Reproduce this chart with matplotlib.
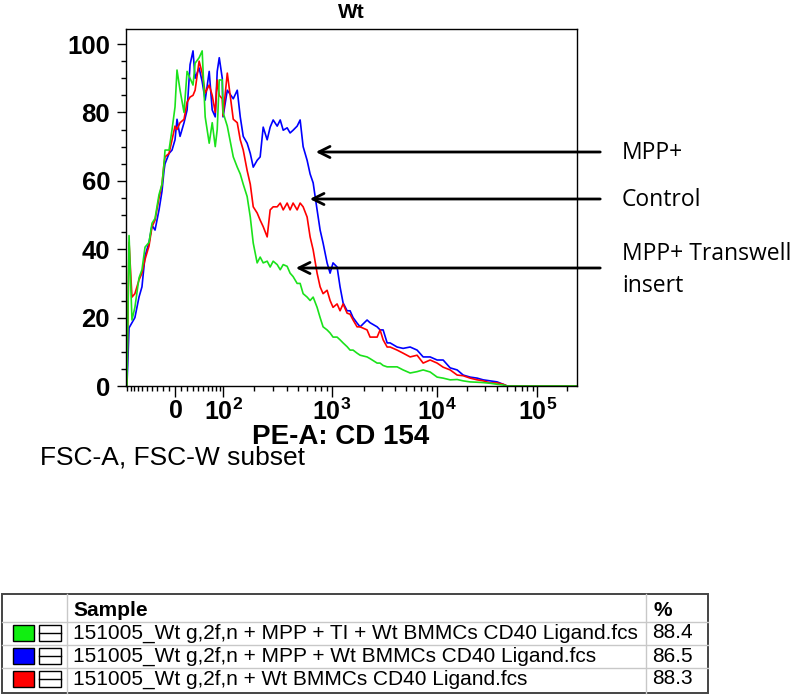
import numpy as np
import matplotlib
matplotlib.use('Agg')
import matplotlib.pyplot as plt
from matplotlib.patches import Rectangle

plt.rcParams['font.family'] = ['Liberation Sans', 'DejaVu Sans']
plt.rcParams['mathtext.fontset'] = 'custom'
plt.rcParams['mathtext.bf'] = 'Liberation Sans:bold'
plt.rcParams['mathtext.rm'] = 'Liberation Sans'

# ---------------- data ----------------
pe_values = [-101, -94.5, -86, -78, -67.6, -60.6, -53.8, -45.4, -39.5, -33.8,
             -26.6, -21.4, -18, -16.3, -9.7, -4.8, 0, 3.2, 8.1, 14.6,
             19.7, 24.8, 30, 33.8, 41.4, 47.5, 53.8, 62.8, 70, 77.7,
             83, 88.7, 97.6, 100, 110.5, 126.7, 138.5, 148, 158, 172,
             184, 196, 213, 227, 242, 263, 280, 298, 324, 345,
             367, 398, 423, 450, 489, 520, 553, 600, 638, 679,
             736, 783, 832, 903, 960, 1021, 1116, 1191, 1273, 1390,
             1483, 1585, 1730, 1850, 2154, 2300, 2685, 2865, 3063, 3343,
             3568, 4161, 4744, 5535, 6445, 7360, 8575, 10000, 11485, 13494,
             15853, 18200, 21385, 25125, 28849, 33900, 39820, 45720, 50130, 250000]

transwell = [0, 44, 19.3, 23, 31.6, 34, 40.6, 42, 47.6, 49,
             56, 59, 65, 69, 69, 75, 81.6, 92.4, 86.5, 80,
             92, 90, 88, 94.4, 96, 98, 78.7, 71, 77, 70,
             75, 89.5, 89.5, 80, 76, 67, 64, 62, 59, 55.4,
             49.4, 41.8, 36, 37.7, 36, 36.5, 34.8, 36.5, 35.5, 34,
             35.5, 35, 33, 32, 30, 30, 27, 26, 25, 26,
             23, 20, 17.3, 16.4, 15.5, 14.3, 14.3, 13.5, 12.6, 11.5,
             10.5, 10.5, 9.6, 9, 8.5, 8, 6.7, 6.7, 6, 5.6,
             5.6, 5.6, 4.7, 3.8, 4.2, 4.7, 4.1, 2.6, 2.3, 1.8,
             1.9, 1.5, 1.2, 1.1, 1.0, 0.8, 0.5, 0.3, 0, 0]

mpp = [0, 17, 18.5, 20, 26, 29, 38, 42, 47, 45.6,
       51.5, 57, 63, 65, 68, 69, 72, 78, 73, 77,
       80.7, 94, 98, 90, 93, 89, 83.6, 92, 80.7, 78.7,
       92, 96, 90, 78.7, 86.5, 84, 86.5, 78.7, 73, 71,
       68, 64, 66, 67, 75.7, 72, 75.7, 77.8, 76, 77.8,
       74.8, 75.5, 74, 74.8, 76, 77.8, 70, 66, 62, 59.4,
       51.5, 45.6, 41.8, 36, 33, 36, 34.8, 29, 24.3, 22,
       22, 20, 18.4, 17.3, 19.3, 18.5, 17.3, 16.4, 16.4, 12.6,
       12.6, 11.4, 11, 11.4, 10.5, 8.5, 8.5, 7.6, 7.6, 5.3,
       4.7, 3.2, 2.6, 2.3, 1.8, 1.5, 1.2, 0.5, 0, 0]

control = [0, 42, 26, 27, 31, 33, 37, 41, 46.6, 48.5,
           55, 59, 65, 67, 68, 72, 76, 75, 77, 78,
           83, 84.5, 85, 86.5, 95, 91.5, 85.7, 88, 85, 80,
           89.5, 85, 84, 79, 91.5, 78, 77, 72, 69, 63,
           59, 52.4, 50.6, 48.5, 46.6, 43.6, 51.5, 52.4, 52.4, 53.5,
           51.5, 53.5, 51.5, 53.5, 51.5, 53.5, 52.4, 49.4, 43.6, 39.8,
           33, 29, 27, 28, 25, 23, 24, 22, 24, 21.3,
           21, 19.3, 17.3, 17.3, 16.4, 14.3, 14.3, 16.4, 13.5, 11.4,
           11.4, 10.5, 9.6, 8.5, 9.0, 6.7, 7.6, 6.7, 5.5, 4.7,
           3.2, 3.0, 2.3, 1.8, 1.5, 0.9, 0.9, 0.5, 0, 0]

x_major = [0, 1e2, 1e3, 1e4, 1e5]
x_major_labels = [r'$\mathbf{0}$', r'$\mathbf{10^{2}}$', r'$\mathbf{10^{3}}$',
                  r'$\mathbf{10^{4}}$', r'$\mathbf{10^{5}}$']
x_minor = ([-100, -90, -80, -70, -60, -50, -40, -30, -20, -10,
            10, 20, 30, 40, 50, 60, 70, 80, 90]
           + [m * 10 ** e for e in (2, 3, 4) for m in range(2, 10)] + [2e5])
y_major = [0, 20, 40, 60, 80, 100]
y_minor = [5, 10, 15, 25, 30, 35, 45, 50, 55, 65, 70, 75, 85, 90, 95]

legend_samples = ['151005_Wt g,2f,n + MPP + TI + Wt BMMCs CD40 Ligand.fcs',
                  '151005_Wt g,2f,n + MPP + Wt BMMCs CD40 Ligand.fcs',
                  '151005_Wt g,2f,n + Wt BMMCs CD40 Ligand.fcs']
legend_pct = ['88.4', '86.5', '88.3']
legend_colors = ['#11ee11', '#0000ff', '#ff0000']

annot_labels = ['MPP+', 'Control', 'MPP+ Transwell\ninsert']

# ------------- logicle-like scale -------------
A = 30.0
def _k(x):
    return np.arcsinh(np.asarray(x, dtype=float) / (2 * A)) / np.log(10)
ANCH_V = np.array([-1e4, 0, 1e2, 1e3, 1e4, 1e5, 1e7])
ANCH_P = np.array([-216.0, 0.0, 48.0, 157.0, 262.0, 362.0, 562.0])
K_A = _k(ANCH_V)
def fwd(x):
    return np.interp(_k(x), K_A, ANCH_P)
def inv(p):
    return 2 * A * np.sinh(np.interp(np.asarray(p, dtype=float), ANCH_P, K_A) * np.log(10))

# ---------------- figure ----------------
W, H = 800, 697
fig = plt.figure(figsize=(W / 100, H / 100), dpi=100)
ax = fig.add_axes([126 / W, 1 - 386 / H, (577 - 126) / W, (386 - 29) / H])
ax.set_xscale('function', functions=(fwd, inv))

ax.plot(pe_values, mpp, color='#0000ff', lw=1.2)
ax.plot(pe_values, control, color='#ff0000', lw=1.2)
ax.plot(pe_values, transwell, color='#1be21b', lw=1.2)

ax.set_xlim(-104, 2.5e5)
ax.set_ylim(0, 104.4)

ax.set_xticks(x_major, labels=x_major_labels, fontsize=18)
ax.set_xticks(x_minor, minor=True)
ax.set_yticks(y_major, labels=[str(v) for v in y_major], fontsize=18.5, fontweight='bold')
ax.set_yticks(y_minor, minor=True)
ax.tick_params(axis='x', which='major', length=8, width=1, pad=1)
ax.tick_params(axis='x', which='minor', length=3.5, width=1)
ax.tick_params(axis='y', which='major', length=6.5, width=1, pad=5)
ax.tick_params(axis='y', which='minor', length=3.5, width=1)
for s in ax.spines.values():
    s.set_linewidth(1.0)

# overlay in pixel coordinates
ov = fig.add_axes([0, 0, 1, 1], facecolor='none')
ov.set_xlim(0, W)
ov.set_ylim(H, 0)
ov.axis('off')

ov.text(351, 12, 'Wt', ha='center', va='center', fontsize=15, fontweight='bold')
ov.text(341, 437, 'PE-A: CD 154', ha='center', va='center', fontsize=20, fontweight='bold')
ov.text(40, 458, 'FSC-A, FSC-W subset', ha='left', va='center', fontsize=19)

arrow_rows = [(152, 313), (199, 307), (268, 293)]
text_pos = [(622, 153), (622, 200), (622, 270)]
for (yy, xt), (tx, ty), lab in zip(arrow_rows, text_pos, annot_labels):
    ov.annotate('', xy=(xt, yy), xytext=(603, yy),
                arrowprops=dict(arrowstyle='->', lw=2.0, color='black', mutation_scale=20))
    ov.text(tx, ty, lab, ha='left', va='center', fontsize=16.5, family='Open Sans',
            linespacing=1.45)

# legend table
ov.add_patch(Rectangle((2, 594), 706, 99, fill=False, edgecolor='#444444', lw=1.4))
for yy in (622, 645, 668):
    ov.plot([2, 708], [yy, yy], color='#c8c8c8', lw=1)
for xx in (67, 646):
    ov.plot([xx, xx], [594, 693], color='#c8c8c8', lw=1)
ov.text(73, 610, 'Sample', ha='left', va='center', fontsize=15, fontweight='bold')
ov.text(653, 610, '%', ha='left', va='center', fontsize=15, fontweight='bold')
for i, (lab, pct, col) in enumerate(zip(legend_samples, legend_pct, legend_colors)):
    y0 = 625 + 23 * i
    ov.add_patch(Rectangle((13, y0), 21, 16, facecolor=col, edgecolor='black', lw=1))
    ov.add_patch(Rectangle((39, y0), 22, 16, facecolor='white', edgecolor='black', lw=1))
    ov.plot([39, 61], [y0 + 8, y0 + 8], color='black', lw=1)
    ov.text(73, y0 + 8, lab, ha='left', va='center', fontsize=15)
    ov.text(652, y0 + 8, pct, ha='left', va='center', fontsize=15)

fig.savefig('out.png', dpi=100)
